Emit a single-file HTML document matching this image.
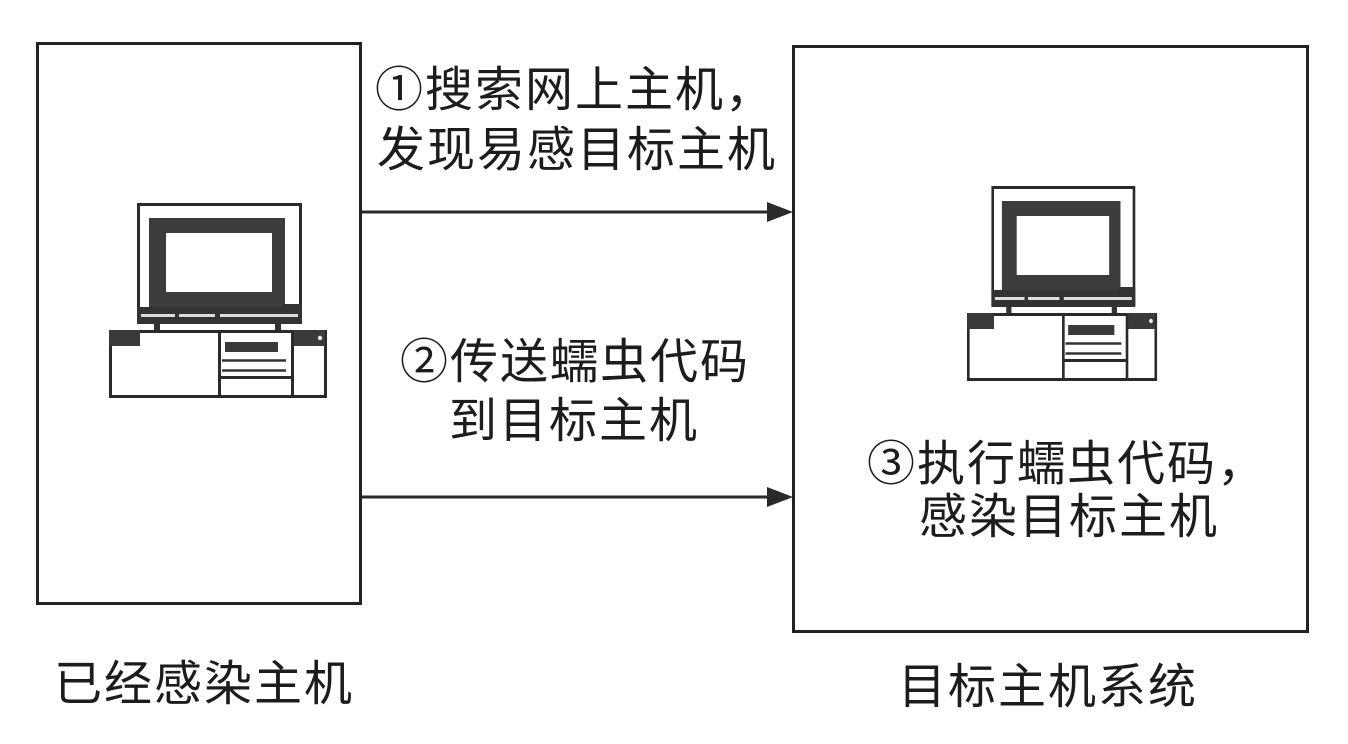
<!DOCTYPE html>
<html><head><meta charset="utf-8">
<style>
html,body{margin:0;padding:0;background:#fff;}
body{width:1348px;height:744px;position:relative;overflow:hidden;}
svg{position:absolute;left:0;top:0;}
.t{position:absolute;font-family:"Liberation Sans","Noto Sans CJK SC",sans-serif;font-size:48px;line-height:48px;letter-spacing:2px;color:#1c1c1c;white-space:nowrap;}
.c{font-size:52px;}
</style></head>
<body>
<svg width="1348" height="744" viewBox="0 0 1348 744">
  <defs>
    <g id="pc">
      <!-- monitor -->
      <rect x="138.5" y="204.5" width="162" height="117" fill="#fff" stroke="#2a2a2a" stroke-width="3"/>
      <rect x="149" y="218" width="136" height="90" fill="#3c3c3c"/>
      <rect x="149" y="306" width="8" height="6" fill="#3c3c3c"/>
      <rect x="166" y="233" width="106" height="59" fill="#fff"/>
      <rect x="137" y="307" width="165" height="17" fill="#333"/>
      <rect x="141" y="314" width="34" height="3" fill="#ddd"/>
      <rect x="179" y="314" width="36" height="3" fill="#ddd"/>
      <rect x="220" y="314" width="78" height="3" fill="#ddd"/>
      <rect x="283" y="304" width="19" height="4" fill="#333"/>
      <!-- legs -->
      <rect x="154" y="323" width="6" height="8" fill="#333"/>
      <rect x="275" y="323" width="6" height="8" fill="#333"/>
      <!-- base -->
      <rect x="110.5" y="331.5" width="215" height="65" fill="#fff" stroke="#2a2a2a" stroke-width="3"/>
      <rect x="109" y="330" width="31" height="16" fill="#3a3a3a"/>
      <rect x="292" y="330" width="33" height="16" fill="#3a3a3a"/>
      <circle cx="320" cy="338" r="2.2" fill="#eee"/>
      <line x1="219.5" y1="331" x2="219.5" y2="398" stroke="#2a2a2a" stroke-width="3"/>
      <line x1="292.5" y1="331" x2="292.5" y2="398" stroke="#2a2a2a" stroke-width="3"/>
      <rect x="225" y="342" width="53" height="10" fill="#3a3a3a"/>
      <line x1="222" y1="360.5" x2="286" y2="360.5" stroke="#333" stroke-width="2.5"/>
      <line x1="222" y1="370.5" x2="286" y2="370.5" stroke="#333" stroke-width="2.5"/>
      <line x1="219" y1="377.5" x2="292" y2="377.5" stroke="#2a2a2a" stroke-width="3"/>
    </g>
  </defs>

  <!-- boxes -->
  <rect x="37.5" y="43.5" width="323" height="560" fill="none" stroke="#222" stroke-width="3"/>
  <rect x="793.5" y="46.5" width="514" height="585" fill="none" stroke="#222" stroke-width="3"/>

  <!-- computers -->
  <use href="#pc"/>
  <g transform="translate(871.95,-17) scale(0.872,1)"><use href="#pc"/></g>

  <!-- arrows -->
  <line x1="362" y1="212" x2="772" y2="212" stroke="#2a2a2a" stroke-width="3"/>
  <polygon points="767,202 793,212 767,222" fill="#2a2a2a"/>
  <line x1="362" y1="497" x2="772" y2="497" stroke="#2a2a2a" stroke-width="3"/>
  <polygon points="767,487 793,497 767,507" fill="#2a2a2a"/>
</svg>

<div class="t" style="left:375px;top:67px;">①搜索网上主机，</div>
<div class="t" style="left:377px;top:127px;">发现易感目标主机</div>

<div class="t" style="left:400px;top:339px;">②传送蠕虫代码</div>
<div class="t" style="left:449px;top:398px;">到目标主机</div>

<div class="t" style="left:867px;top:441px;">③执行蠕虫代码，</div>
<div class="t" style="left:919px;top:494px;">感染目标主机</div>

<div class="t" style="left:54px;top:661px;">已经感染主机</div>
<div class="t" style="left:898px;top:664px;">目标主机系统</div>
</body></html>
